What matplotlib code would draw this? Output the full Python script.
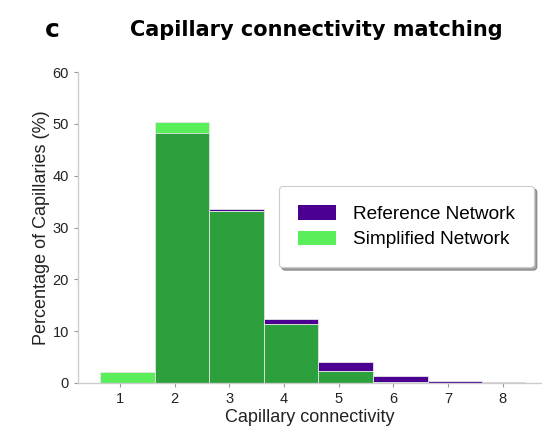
import numpy as np
import matplotlib
matplotlib.use("Agg")
import matplotlib.pyplot as plt
from matplotlib.patches import Patch

# Histogram bin edges (connectivity classes 1..8)
bin_edges = [0.63, 1.63, 2.63, 3.63, 4.63, 5.63, 6.63, 7.63, 8.40]
connectivity = [1, 2, 3, 4, 5, 6, 7, 8]
reference_pct = [0.0, 48.3, 33.6, 12.4, 4.05, 1.3, 0.35, 0.12]
simplified_pct = [2.1, 50.4, 33.2, 11.4, 2.4, 0.25, 0.08, 0.0]

ref_color = "#4b0092"
simp_color = "#5aee5a"
overlap_color = "#2ca03c"

plt.rcParams["font.family"] = ["Liberation Sans", "DejaVu Sans"]

fig = plt.figure(figsize=(5.42, 4.26), dpi=100)
ax = fig.add_axes([78 / 542, 43 / 426, 1 - 78 / 542, 311 / 426])

edges = np.array(bin_edges)
lefts = edges[:-1]
widths = np.diff(edges)
ref = np.array(reference_pct)
simp = np.array(simplified_pct)
overlap = np.minimum(ref, simp)

kw = dict(align="edge", edgecolor="#e6e6e6", linewidth=0.6)
ax.bar(lefts, ref, widths, color=ref_color, **kw)
ax.bar(lefts, simp, widths, color=simp_color, **kw)
ax.bar(lefts, overlap, widths, color=overlap_color, **kw)

ax.set_xlim(0.23, 8.72)
ax.set_ylim(0, 60)
ax.set_xticks(connectivity)
ax.set_yticks([0, 10, 20, 30, 40, 50, 60])

for side in ("top", "right"):
    ax.spines[side].set_visible(False)
for side in ("left", "bottom"):
    ax.spines[side].set_color("#cccccc")
    ax.spines[side].set_linewidth(1.0)
ax.tick_params(axis="both", labelsize=10.5, length=3, width=0.8,
               color="#999999", labelcolor="#222222")

ax.set_xlabel("Capillary connectivity", fontsize=13, color="#222222", labelpad=2)
ax.set_ylabel("Percentage of Capillaries (%)", fontsize=13, color="#222222",
              labelpad=2)

handles = [Patch(facecolor=ref_color, label="Reference Network"),
           Patch(facecolor=simp_color, label="Simplified Network")]
leg = ax.legend(handles=handles, loc="upper left",
                bbox_to_anchor=(201 / 464, 1 - (186 - 72) / 311),
                fontsize=13.7, frameon=True, fancybox=True, shadow=True,
                handlelength=2.0, handleheight=0.8, borderpad=1.0,
                labelspacing=0.4, handletextpad=0.9, borderaxespad=0)
leg.get_frame().set_edgecolor("#cccccc")
leg.get_frame().set_linewidth(0.8)

title_font = ["DejaVu Sans"]
fig.text(52 / 542, 1 - 30 / 426, "c", fontsize=18, fontweight="bold",
         family=title_font, ha="center", va="center")
fig.text(316 / 542, 1 - 30 / 426, "Capillary connectivity matching",
         fontsize=15, fontweight="bold", family=title_font,
         ha="center", va="center")

fig.savefig("out.png", dpi=100)
